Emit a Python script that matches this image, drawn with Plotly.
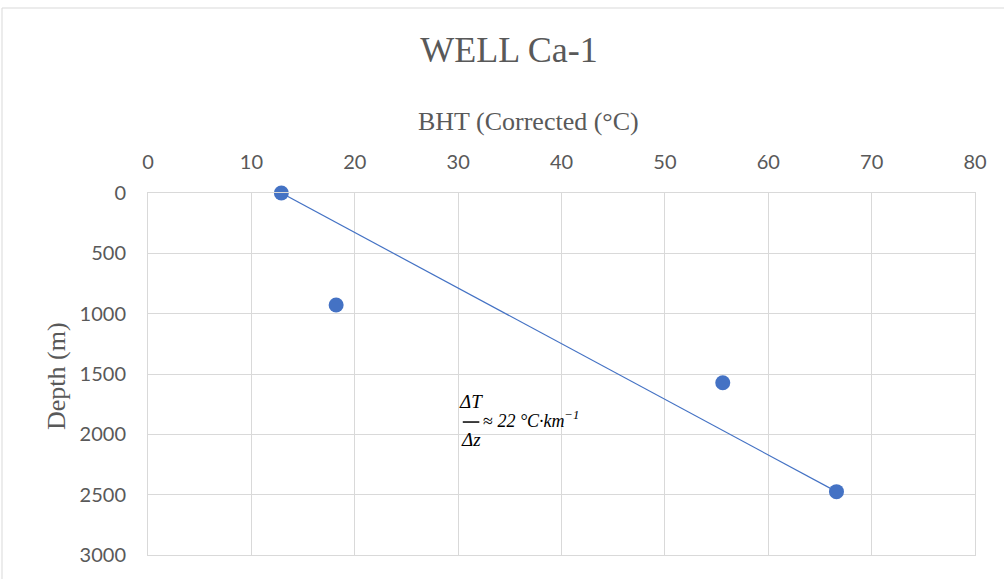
import plotly.graph_objects as go

# Data
bht_c = [12.9, 18.2, 55.6, 66.6]          # corrected BHT (°C)
depth_m = [0, 928, 1572, 2475]            # depth (m)
x_ticks = [0, 10, 20, 30, 40, 50, 60, 70, 80]
y_ticks = [0, 500, 1000, 1500, 2000, 2500, 3000]

BLUE = "#4472C4"
GRAY_TXT = "#595959"
GRID = "#d9d9d9"

fig = go.Figure()

# Gradient line between the shallowest and deepest measurements
fig.add_trace(go.Scatter(
    x=[bht_c[0], bht_c[-1]], y=[depth_m[0], depth_m[-1]],
    mode="lines", line=dict(color=BLUE, width=1.2),
    hoverinfo="skip", showlegend=False, cliponaxis=False,
))
fig.add_trace(go.Scatter(
    x=bht_c, y=depth_m, mode="markers",
    marker=dict(color=BLUE, size=15, line=dict(width=0)),
    showlegend=False, cliponaxis=False,
))

W, H = 1004, 579
L, R, T, B = 148, 29, 193, 24
pw, ph = W - L - R, H - T - B

tick_font = dict(family="Lato, 'Open Sans', sans-serif", size=20, color=GRAY_TXT)
serif = "'Liberation Serif', 'Times New Roman', serif"

fig.update_layout(
    width=W, height=H,
    margin=dict(l=L, r=R, t=T, b=B, pad=0),
    paper_bgcolor="white", plot_bgcolor="white",
    title=dict(text="WELL Ca-1", x=509 / W, xref="container",
               y=1 - 49 / H, yref="container", xanchor="center", yanchor="middle",
               font=dict(family=serif, size=36, color=GRAY_TXT)),
    xaxis=dict(
        side="top", range=[0, 80], tickvals=x_ticks, ticktext=[str(v) for v in x_ticks],
        showgrid=True, gridcolor=GRID, gridwidth=1,
        showline=True, linecolor=GRID, linewidth=1, mirror=True,
        zeroline=False, ticks="outside", ticklen=15, tickcolor="rgba(0,0,0,0)",
        tickfont=tick_font,
    ),
    yaxis=dict(
        range=[3000, 0], tickvals=y_ticks, ticktext=[str(v) for v in y_ticks],
        showgrid=True, gridcolor=GRID, gridwidth=1,
        showline=True, linecolor=GRID, linewidth=1, mirror=True,
        zeroline=False, ticks="outside", ticklen=17, tickcolor="rgba(0,0,0,0)",
        tickfont=tick_font,
    ),
)

# Outer chart border
fig.add_shape(type="rect", xref="paper", yref="paper",
              x0=(2 - L) / pw, x1=(1010 - L) / pw,
              y0=-(585 - (H - B)) / ph, y1=1 + (T - 8) / ph,
              line=dict(color=GRID, width=1), fillcolor="rgba(0,0,0,0)", layer="below")

# Axis titles
fig.add_annotation(text="BHT (Corrected (°C)", xref="paper", yref="paper",
                   x=(528 - L) / pw, y=1 + (T - 121) / ph, showarrow=False,
                   xanchor="center", yanchor="middle",
                   font=dict(family=serif, size=26, color=GRAY_TXT))
fig.add_annotation(text="Depth (m)", xref="paper", yref="paper",
                   x=(56 - L) / pw, y=1 - (376 - T) / ph, showarrow=False,
                   textangle=-90, xanchor="center", yanchor="middle",
                   font=dict(family=serif, size=26, color=GRAY_TXT))

# Gradient formula: ΔT/Δz ≈ 22 °C·km^-1
frac_font = dict(family=serif, size=19, color="black")
math_font = dict(family=serif, size=18, color="black")
fig.add_annotation(text="<i>ΔT</i>", x=31.2, y=1725, showarrow=False,
                   xanchor="center", yanchor="middle", font=frac_font)
fig.add_shape(type="line", x0=30.45, x1=32.05, y0=1898, y1=1898,
              line=dict(color="black", width=1.5))
fig.add_annotation(text="<i>Δz</i>", x=31.2, y=2045, showarrow=False,
                   xanchor="center", yanchor="middle", font=frac_font)
fig.add_annotation(text="≈ <i>22 °C·km</i><sup><i>−1</i></sup>", x=32.2, y=1881,
                   showarrow=False, xanchor="left", yanchor="middle", font=math_font)

fig.write_html("out.html")
